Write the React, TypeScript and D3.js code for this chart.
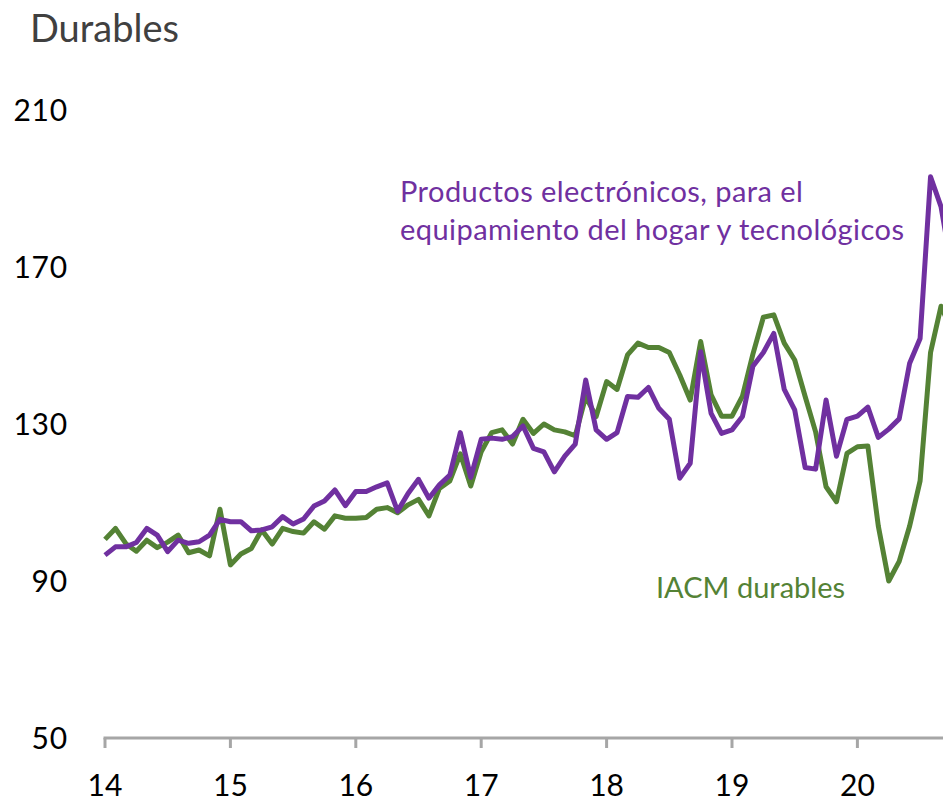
import React, { useEffect, useRef } from "react";
import * as d3 from "d3";

// monthly index, Jan 2014 = 0
const yearLabels = ["14", "15", "16", "17", "18", "19", "20"];
const yTicks = [50, 90, 130, 170, 210];

const iacmDurables = [
  100.6, 103.4, 99.5, 97.6, 100.4, 98.5, 99.9, 101.7, 97.2, 97.9, 96.4, 108.3,
  94.1, 96.9, 98.3, 103.0, 99.4, 103.4, 102.6, 102.2, 105.1, 103.2, 106.6, 106.0,
  106.0, 106.2, 108.3, 108.7, 107.4, 109.4, 110.8, 106.6, 113.6, 115.5, 122.4, 114.2,
  122.9, 127.8, 128.5, 124.9, 131.2, 127.6, 130.0, 128.5, 128.0, 127.0, 137.0, 131.9,
  140.8, 138.8, 147.6, 150.6, 149.5, 149.5, 148.2, 142.5, 136.1, 151.0, 137.4, 132.0,
  132.0, 137.1, 147.8, 157.2, 157.8, 150.6, 146.3, 137.0, 128.0, 114.0, 110.2, 122.5,
  124.2, 124.4, 104.0, 90.0, 95.0, 104.0, 115.5, 148.2, 160.0, 154.0,
];

const electronicos = [
  96.6, 98.7, 98.7, 99.8, 103.4, 101.7, 97.5, 100.4, 99.6, 100.0, 101.7, 105.7,
  105.1, 105.1, 102.8, 103.0, 103.8, 106.4, 104.5, 105.8, 109.1, 110.4, 113.2, 109.2,
  112.8, 112.8, 114.0, 115.0, 107.8, 112.3, 115.9, 111.1, 114.5, 117.0, 127.8, 116.4,
  126.1, 126.4, 126.1, 126.8, 129.5, 123.8, 122.9, 117.8, 121.8, 124.9, 141.2, 128.5,
  126.1, 127.8, 137.0, 136.8, 139.3, 134.0, 131.2, 116.2, 120.0, 148.4, 132.7, 127.6,
  128.5, 131.9, 144.7, 148.2, 153.1, 138.8, 133.6, 118.9, 118.5, 136.1, 121.8, 131.2,
  132.0, 134.3, 126.6, 128.7, 131.3, 145.5, 151.8, 193.0, 185.4, 170.0,
];

const font = "Lato, 'Open Sans', sans-serif";

function App() {
  const chartRef = useRef(null);

  useEffect(() => {
    if (!chartRef.current) return;
    const svg = d3.select(chartRef.current);
    svg.selectAll("*").remove();

    const width = 943;
    const height = 799;

    const x = d3.scaleLinear().domain([0, 80]).range([105, 941]);
    const y = d3.scaleLinear().domain([50, 210]).range([738, 110]);

    svg.append("defs").append("clipPath").attr("id", "plotClip")
      .append("rect").attr("x", 0).attr("y", 0).attr("width", width).attr("height", height);

    // title
    svg.append("text")
      .attr("x", 30)
      .attr("y", 42)
      .attr("font-family", font)
      .attr("font-size", 38)
      .attr("fill", "#404040")
      .text("Durables");

    // y labels
    svg.selectAll(".ylab")
      .data(yTicks)
      .enter()
      .append("text")
      .attr("class", "ylab")
      .attr("x", 68)
      .attr("y", (d) => y(d) + 10.5)
      .attr("text-anchor", "end")
      .attr("font-family", font)
      .attr("font-size", 30)
      .attr("letter-spacing", 0.8)
      .attr("fill", "#000")
      .text((d) => d);

    // x axis
    svg.append("line")
      .attr("x1", x(0) - 1.5)
      .attr("x2", width)
      .attr("y1", y(50))
      .attr("y2", y(50))
      .attr("stroke", "#a6a6a6")
      .attr("stroke-width", 3);

    svg.selectAll(".xtick")
      .data(yearLabels)
      .enter()
      .append("line")
      .attr("class", "xtick")
      .attr("x1", (_, i) => x(i * 12))
      .attr("x2", (_, i) => x(i * 12))
      .attr("y1", y(50))
      .attr("y2", y(50) + 10)
      .attr("stroke", "#a6a6a6")
      .attr("stroke-width", 3);

    svg.selectAll(".xlab")
      .data(yearLabels)
      .enter()
      .append("text")
      .attr("class", "xlab")
      .attr("x", (_, i) => x(i * 12))
      .attr("y", 796)
      .attr("text-anchor", "middle")
      .attr("font-family", font)
      .attr("font-size", 30)
      .attr("fill", "#000")
      .text((d) => d);

    const line = d3.line<number>()
      .x((_, i) => x(i))
      .y((d) => y(d));

    const lines = svg.append("g").attr("clip-path", "url(#plotClip)");

    lines.append("path")
      .datum(iacmDurables)
      .attr("d", line)
      .attr("fill", "none")
      .attr("stroke", "#548235")
      .attr("stroke-width", 5)
      .attr("stroke-linejoin", "round");

    lines.append("path")
      .datum(electronicos)
      .attr("d", line)
      .attr("fill", "none")
      .attr("stroke", "#7030a0")
      .attr("stroke-width", 5)
      .attr("stroke-linejoin", "round");

    // series labels
    const purpleLabel = svg.append("text")
      .attr("font-family", font)
      .attr("font-size", 29)
      .attr("letter-spacing", 0.45)
      .attr("fill", "#7030a0");
    purpleLabel.append("tspan").attr("x", 400).attr("y", 202).text("Productos electrónicos, para el");
    purpleLabel.append("tspan").attr("x", 400).attr("y", 240).text("equipamiento del hogar y tecnológicos");

    svg.append("text")
      .attr("x", 656)
      .attr("y", 598)
      .attr("font-family", font)
      .attr("font-size", 29)
      .attr("fill", "#548235")
      .text("IACM durables");
  }, []);

  return (
    <div style={{ position: "absolute", left: 0, top: 0, width: 943, height: 799, background: "#fff" }}>
      <svg ref={chartRef} width={943} height={799}></svg>
    </div>
  );
}

export default App;
